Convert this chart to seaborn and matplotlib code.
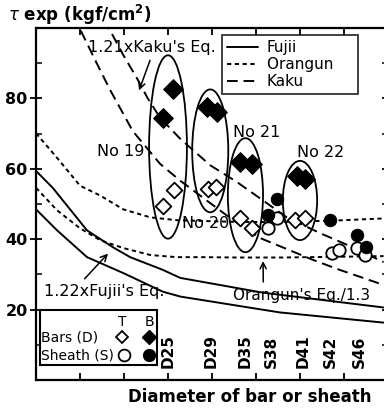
import matplotlib
matplotlib.use("Agg")
import numpy as np
import pandas as pd
import matplotlib.pyplot as plt
import seaborn as sns
from matplotlib.patches import Ellipse, Rectangle
from matplotlib.lines import Line2D

# design equations (x: diameter in mm, y: tau in kgf/cm2)
fujii_x = [10, 12.4, 15.8, 19.9, 24.4, 26.4, 37.7, 49.5]
fujii_y = [48.5, 42.5, 34.9, 30.4, 25.1, 23.7, 19.2, 16.3]
fujii122_x = [10, 11.9, 15.8, 18.75, 20.7, 24.4, 26.4, 35.8, 49.5]
fujii122_y = [59.4, 54.6, 42.5, 37.7, 34.9, 31.3, 29.0, 24.8, 20.6]
orangun_x = [10, 12.4, 15, 17.3, 19.9, 23.0, 26.0, 28.6, 33, 38, 44, 49.5]
orangun_y = [70.1, 63.1, 55.2, 52.4, 48.5, 46.2, 45.4, 45.2, 44.9, 44.9, 45.3, 45.9]
orangun13_y = [54.6, 48.2, 43.1, 39.7, 37.5, 35.5, 34.9, 34.9, 34.8, 34.8, 35.0, 35.2]
kaku_x = [14, 15, 16.7, 18.4, 21, 24.1, 26.4, 29.4, 32.4, 35.5, 38.5, 41.5, 44.5, 49.5]
kaku_y = [103, 99.7, 91, 82.5, 70.7, 61.4, 56.6, 51, 45.4, 40.3, 37.2, 34.1, 31.3, 27.0]
kaku121_x = [17.5, 18.4, 19.9, 21.5, 22.7, 24.1, 26.4, 29.8, 32.8, 35.8, 38.5, 42.3, 46.0, 49.5]
kaku121_y = [102, 99.4, 92.4, 85.6, 80, 74.5, 68.5, 61.0, 56.3, 51, 46.2, 41.7, 37.7, 33.5]

# test results
bar_b_x = [24.4, 25.6, 29.4, 30.6, 33.2, 34.5, 39.7, 40.6]
bar_b_y = [74.4, 82.8, 77.5, 76.1, 62.0, 61.4, 58.0, 57.2]
bar_t_x = [24.4, 25.7, 29.5, 30.5, 33.2, 34.5, 39.4, 40.6]
bar_t_y = [49.3, 54.1, 54.4, 54.9, 45.9, 43.1, 45.4, 45.9]
sh_b_x = [37.4, 36.4, 43.4, 46.5, 47.5]
sh_b_y = [51.5, 46.8, 45.4, 41.1, 37.7]
sh_t_x = [37.4, 36.4, 43.6, 44.4, 46.5, 47.4]
sh_t_y = [45.9, 43.1, 36.1, 36.9, 37.5, 35.5]

# specimen groups
spec_names = ["No 19", "No 20", "No 21", "No 22"]
spec_cx = [25.0, 29.8, 33.8, 40.0]
spec_cy = [66.2, 65.1, 52.5, 51.0]
spec_w = [4.3, 4.1, 4.0, 3.9]
spec_h = [52.1, 34.9, 32.4, 22.5]
spec_lx = [19.6, 29.3, 35.1, 42.3]
spec_ly = [64.8, 44.5, 70.4, 64.5]

size_names = ["D25", "D29", "D35", "S38", "D41", "S42", "S46"]
size_x = [25.0, 29.9, 33.75, 36.8, 40.3, 43.4, 46.8]

sns.set_style("white")
plt.rcParams['font.family'] = ['DejaVu Sans']
plt.rcParams['mathtext.fontset'] = 'dejavusans'
plt.rcParams['text.color'] = 'black'
plt.rcParams['ytick.color'] = 'black'
plt.rcParams['xtick.color'] = 'black'

fig = plt.figure(figsize=(3.84, 4.12), dpi=100)
ax = fig.add_axes([36/384, 32/412, 352/384, 352/412])

lw = 1.4
short = (0, (2.2, 1.8))
long = (0, (5.5, 3.0))
sns.lineplot(x=fujii_x, y=fujii_y, color='black', lw=lw, ax=ax)
sns.lineplot(x=fujii122_x, y=fujii122_y, color='black', lw=lw, ax=ax)
sns.lineplot(x=orangun_x, y=orangun_y, color='black', lw=lw, linestyle=short, ax=ax)
sns.lineplot(x=orangun_x, y=orangun13_y, color='black', lw=lw, linestyle=short, ax=ax)
sns.lineplot(x=kaku_x, y=kaku_y, color='black', lw=lw, linestyle=long, ax=ax)
sns.lineplot(x=kaku121_x, y=kaku121_y, color='black', lw=lw, linestyle=long, ax=ax)

sns.scatterplot(x=sh_t_x, y=sh_t_y, marker='o', s=80, facecolor='white', edgecolor='black', linewidth=1.3, ax=ax, zorder=5)
sns.scatterplot(x=sh_b_x, y=sh_b_y, marker='o', s=80, color='black', edgecolor='black', ax=ax, zorder=5)
sns.scatterplot(x=bar_t_x, y=bar_t_y, marker='D', s=64, facecolor='white', edgecolor='black', linewidth=1.3, ax=ax, zorder=6)
sns.scatterplot(x=bar_b_x, y=bar_b_y, marker='D', s=100, color='black', edgecolor='black', ax=ax, zorder=6)

for name, cx, cy, w, h, lx, ly in zip(spec_names, spec_cx, spec_cy, spec_w, spec_h, spec_lx, spec_ly):
    ax.add_patch(Ellipse((cx, cy), w, h, fill=False, ec='black', lw=1.3, zorder=4))
    ax.text(lx, ly, name, ha='center', va='center', fontsize=11.5, zorder=7)

for name, x in zip(size_names, size_x):
    ax.text(x, 3.5, name, rotation=90, ha='center', va='bottom', fontsize=11, fontweight='bold')

# annotations with arrows
ax.annotate("1.21xKaku's Eq.", xy=(21.6, 81.5), xytext=(23.2, 94.6), ha='center', va='center',
            fontsize=11.5, arrowprops=dict(arrowstyle='->', color='black', lw=1.1, relpos=(0.5, 0.0)))
ax.annotate("1.22xFujii's Eq.", xy=(18.4, 36.5), xytext=(17.7, 25.1), ha='center', va='center',
            fontsize=11.5, arrowprops=dict(arrowstyle='->', color='black', lw=1.1, relpos=(0.3, 1.0)))
ax.annotate("Orangun's Eq./1.3", xy=(35.8, 34.6), xytext=(40.2, 24.0), ha='center', va='center',
            fontsize=11, arrowprops=dict(arrowstyle='->', color='black', lw=1.1, relpos=(0.22, 1.0)))

# curve legend
handles = [Line2D([], [], color='black', lw=lw),
           Line2D([], [], color='black', lw=lw, linestyle=short),
           Line2D([], [], color='black', lw=lw, linestyle=long)]
leg = ax.legend(handles, ['Fujii', 'Orangun    ', 'Kaku'], loc='upper left', bbox_to_anchor=(0.528, 0.98),
                frameon=True, fancybox=False, edgecolor='black', fontsize=11, handlelength=2.0,
                borderaxespad=0, borderpad=0.35, labelspacing=0.12, handletextpad=0.6)
leg.get_frame().set_linewidth(1.3)

# marker key box
ax.add_patch(Rectangle((0.011, 0.043), 0.333, 0.156, transform=ax.transAxes, fill=True,
                       fc='white', ec='black', lw=1.5, zorder=8))
ax.text(0.244, 0.165, 'T', transform=ax.transAxes, ha='center', va='center', fontsize=10, zorder=9)
ax.text(0.321, 0.165, 'B', transform=ax.transAxes, ha='center', va='center', fontsize=10, zorder=9)
ax.text(0.013, 0.122, 'Bars (D)', transform=ax.transAxes, ha='left', va='center', fontsize=10, zorder=9)
ax.text(0.013, 0.071, 'Sheath (S)', transform=ax.transAxes, ha='left', va='center', fontsize=10, zorder=9)
ax.plot([0.244], [0.122], 'D', ms=6.5, mfc='white', mec='black', mew=1.3, transform=ax.transAxes, zorder=9)
ax.plot([0.321], [0.122], 'D', ms=7, color='black', transform=ax.transAxes, zorder=9)
ax.plot([0.25], [0.071], 'o', ms=8.5, mfc='white', mec='black', mew=1.3, transform=ax.transAxes, zorder=9)
ax.plot([0.321], [0.071], 'o', ms=8.5, color='black', transform=ax.transAxes, zorder=9)

ax.set_xlim(10, 50)
ax.set_ylim(0, 100)
ax.set_xlabel('')
ax.set_ylabel('')
ax.set_xticks([15, 20, 25, 30, 35, 40, 45])
ax.set_xticklabels([])
ax.set_yticks([20, 40, 60, 80])
ax.set_yticks([10, 30, 50, 70, 90], minor=True)
ax.tick_params(axis='x', which='major', direction='in', length=5, width=1.3, top=True, bottom=True)
ax.tick_params(axis='y', which='major', direction='inout', length=9, width=1.3, left=True, right=True,
               labelsize=11.5, pad=1.5)
ax.tick_params(axis='y', which='minor', direction='in', length=4, width=1.1, left=True, right=True)
for t in ax.get_yticklabels():
    t.set_fontweight('bold')
for sp in ax.spines.values():
    sp.set_visible(True)
    sp.set_linewidth(1.6)
    sp.set_color('black')

fig.text(8/384, 1 - 15/412, r'$\tau$ exp (kgf/cm$^{\mathbf{2}}$)', fontsize=12, fontweight='bold',
         va='center', ha='left')
fig.text(128/384, 1 - 397/412, 'Diameter of bar or sheath', fontsize=12, fontweight='bold',
         va='center', ha='left')

fig.savefig('out.png', dpi=100)
